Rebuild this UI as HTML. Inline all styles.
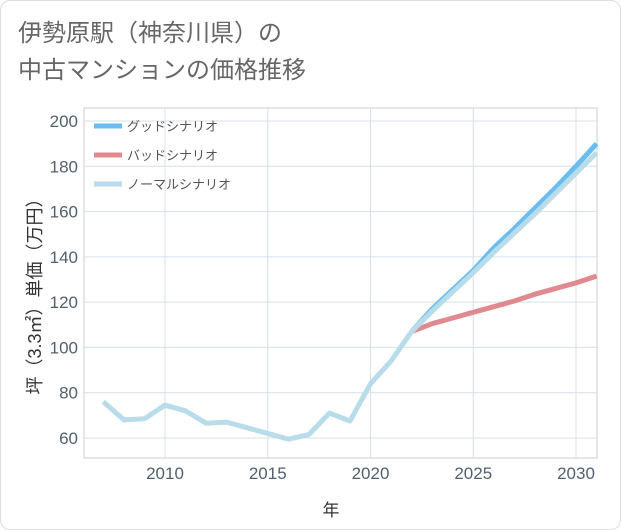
<!DOCTYPE html>
<html><head><meta charset="utf-8"><style>
body{margin:0;background:#fff;font-family:"Liberation Sans","Noto Sans CJK JP",sans-serif}
#card{position:absolute;left:0;top:0;width:619px;height:528px;border:1px solid #ddd;border-radius:10px;background:#fff}
</style></head><body>
<div id="card"></div>
<svg id="chart" width="621" height="530" style="position:absolute;left:0;top:0">
<text x="18" y="41" font-size="24" fill="#666">伊勢原駅（神奈川県）の</text>
<text x="18" y="78" font-size="24" fill="#666">中古マンションの価格推移</text>
<g id="grid"></g><g id="lines"></g><g id="legend"></g>
<text x="331" y="516" font-size="17" fill="#333" text-anchor="middle">年</text>
<text transform="translate(41,292) rotate(-90)" font-size="18" fill="#333" text-anchor="middle">坪（3.3㎡）単価（万円）</text>
</svg>
<script>
const years=[2007,2008,2009,2010,2011,2012,2013,2014,2015,2016,2017,2018,2019,2020,2021,2022,2023,2024,2025,2026,2027,2028,2029,2030,2031];
const normalVals=[76,68,68.5,74.5,72,66.5,67,64.5,62,59.5,61.5,71,67.5,84,94,107,116,124.5,133,142,150.5,159,168,177,186];
const futureYears=[2022,2023,2024,2025,2026,2027,2028,2029,2030,2031];
const goodVals=[107,117,125.5,134,144,152.5,161.5,170.5,180,190];
const badVals=[107,110.5,113,115.5,118,120.5,123.5,126,128.5,131.5];
const yTicks=[60,80,100,120,140,160,180,200];
const xTicks=[2010,2015,2020,2025,2030];
const L=84,R=597,T=108,B=458;
const xs=y=>165+(y-2010)*20.55;
const ys=v=>438-(v-60)*2.2643;
const NS="http://www.w3.org/2000/svg";
function mk(tag,attrs,parent){const e=document.createElementNS(NS,tag);for(const k in attrs)e.setAttribute(k,attrs[k]);parent.appendChild(e);return e;}
const g=document.getElementById('grid');
const frame=mk('rect',{x:L,y:T,width:R-L,height:B-T,fill:'none',stroke:'#ccc'},g);


yTicks.forEach(v=>{
 const ln=mk('line',{x1:L,x2:R,y1:ys(v),y2:ys(v),stroke:'#d5e0ea'},g);
 
 
 const t=mk('text',{x:L-6,y:ys(v)+6,'font-size':17,fill:'#506070','text-anchor':'end'},g);t.textContent=v;
 
 
});
xTicks.forEach(v=>{
 const ln=mk('line',{x1:xs(v),x2:xs(v),y1:T,y2:B,stroke:'#d5e0ea'},g);
 
 
 const t=mk('text',{x:xs(v),y:B+21,'font-size':17,fill:'#506070','text-anchor':'middle'},g);t.textContent=v;
 
 
});
const lg=document.getElementById('lines');
function line(xv,yv,color,name){
 const d=xv.map((x,i)=>(i?'L':'M')+xs(x)+','+ys(yv[i])).join(' ');
 const p=mk('path',{d:d,fill:'none',stroke:color,'stroke-width':5,'stroke-linejoin':'round'},lg);
 
 
}
line(futureYears,goodVals,'#6bbdf0','good-scenario-line');
line(futureYears,badVals,'#e08a90','bad-scenario-line');
line(years,normalVals,'#b8dcea','normal-scenario-line');
const leg=document.getElementById('legend');
[['グッドシナリオ','#6bbdf0'],['バッドシナリオ','#e08a90'],['ノーマルシナリオ','#b8dcea']].forEach((e,i)=>{
 const y=126+i*29;
 const ln=mk('line',{x1:94,x2:122,y1:y,y2:y,stroke:e[1],'stroke-width':5},leg);
 
 
 const t=mk('text',{x:127,y:y+5,'font-size':13,fill:'#555'},leg);t.textContent=e[0];
 
 
});
</script>
</body></html>
